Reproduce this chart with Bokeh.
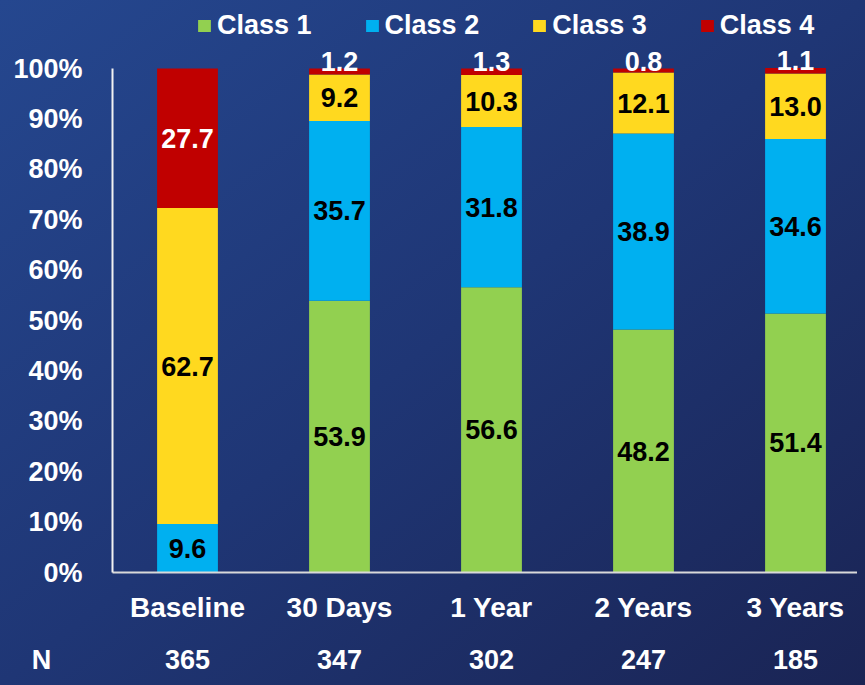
from bokeh.plotting import figure
from bokeh.models import (ColumnDataSource, Range1d, FixedTicker, LinearAxis,
                          Legend, LegendItem)
from bokeh.core.properties import value
from bokeh.embed import file_html
from bokeh.resources import INLINE

# ---------------- data ----------------
categories = ["Baseline", "30 Days", "1 Year", "2 Years", "3 Years"]
n_values = [365, 347, 302, 247, 185]
class1 = [0.0, 53.9, 56.6, 48.2, 51.4]
class2 = [9.6, 35.7, 31.8, 38.9, 34.6]
class3 = [62.7, 9.2, 10.3, 12.1, 13.0]
class4 = [27.7, 1.2, 1.3, 0.8, 1.1]
series_names = ["Class 1", "Class 2", "Class 3", "Class 4"]
y_ticks = [0, 10, 20, 30, 40, 50, 60, 70, 80, 90, 100]
n_row_title = "N"

colors = ["#92D050", "#00B0F0", "#FFD91F", "#C00000"]
label_colors = ["black", "black", "black", "white"]
FONT = "Liberation Sans"

W, H = 857, 677
# pixel layout of the plotting area inside the canvas
AX_LEFT, Y0_PX, Y100_PX = 112, 572, 68
CENTER0, PITCH = 187, 152
px_per_unit = (Y0_PX - Y100_PX) / 100.0

x_start = (0 - CENTER0) / PITCH
x_end = (W - CENTER0) / PITCH
y_end = Y0_PX / px_per_unit
y_start = -(H - Y0_PX) / px_per_unit
axis_x = (AX_LEFT - CENTER0) / PITCH
n_x = (41 - CENTER0) / PITCH

xs = list(range(len(categories)))
series = [class1, class2, class3, class4]
keys = ["c1", "c2", "c3", "c4"]
src = ColumnDataSource(dict(x=xs, c1=class1, c2=class2, c3=class3, c4=class4))

p = figure(width=W, height=H, output_backend="svg", toolbar_location=None,
           x_range=Range1d(x_start, x_end), y_range=Range1d(y_start, y_end),
           min_border=0, x_axis_type=None, y_axis_type=None)
p.background_fill_color = None
p.border_fill_color = None
p.outline_line_color = None
p.xgrid.visible = False
p.ygrid.visible = False

renderers = p.vbar_stack(keys, x="x", width=0.4, source=src, color=colors,
                         line_color=None)

# value labels
lx, ly, lt, lc, loff = [], [], [], [], []
for i in range(len(categories)):
    base = 0.0
    for k, s in enumerate(series):
        v = s[i]
        if v > 0:
            if k == 3 and v < 5:
                ly.append(base + v); loff.append(-7)
            else:
                ly.append(base + v / 2); loff.append(0)
            lx.append(xs[i]); lt.append(f"{v:.1f}"); lc.append(label_colors[k])
        base += v
lsrc = ColumnDataSource(dict(x=lx, y=ly, t=lt, c=lc, off=loff))
p.text(x="x", y="y", text="t", source=lsrc, text_color="c", y_offset="off",
       text_align="center", text_baseline="middle", text_font=value(FONT),
       text_font_style="bold", text_font_size="27px")


def style_axis(ax, size, standoff):
    ax.major_tick_line_color = None
    ax.minor_tick_line_color = None
    ax.major_label_standoff = standoff
    ax.major_label_text_color = "white"
    ax.major_label_text_font = FONT
    ax.major_label_text_font_style = "bold"
    ax.major_label_text_font_size = size


# y axis
yax = LinearAxis(ticker=FixedTicker(ticks=y_ticks), bounds=(0, 100),
                 fixed_location=axis_x,
                 major_label_overrides={t: f"{t}%" for t in y_ticks})
yax.axis_line_color = "#F2F2F2"
yax.axis_line_width = 2
style_axis(yax, "27px", 24)
p.add_layout(yax, "left")

# x axis (categories)
xax = LinearAxis(ticker=FixedTicker(ticks=xs), bounds=(axis_x, x_end),
                 fixed_location=0,
                 major_label_overrides={i: c for i, c in zip(xs, categories)})
xax.axis_line_color = "#D9D9D9"
xax.axis_line_width = 2
style_axis(xax, "28px", 13)
p.add_layout(xax, "below")

# N row
n_ticks = [n_x] + xs
n_labels = {n_x: n_row_title}
n_labels.update({i: str(n) for i, n in zip(xs, n_values)})
nax = LinearAxis(ticker=FixedTicker(ticks=n_ticks), fixed_location=0,
                 major_label_overrides=n_labels)
nax.axis_line_color = None
style_axis(nax, "27px", 66)
p.add_layout(nax, "below")

legend = Legend(items=[LegendItem(label=n, renderers=[r])
                       for n, r in zip(series_names, renderers)],
                orientation="horizontal", location=(196, 636),
                glyph_width=16, glyph_height=15, label_standoff=5, spacing=52,
                padding=0, margin=0, border_line_color=None,
                background_fill_alpha=0, label_text_color="white",
                label_text_font=FONT, label_text_font_style="bold",
                label_text_font_size="27px")
p.add_layout(legend)

html = file_html(p, INLINE)
style = ("<style>html{min-height:100%;background:linear-gradient(to bottom right,"
         "#25478F 0%,#1F3675 50%,#1A2454 100%) no-repeat fixed;}</style>")
html = html.replace("</head>", style + "</head>", 1)
open("out.html", "w").write(html)
